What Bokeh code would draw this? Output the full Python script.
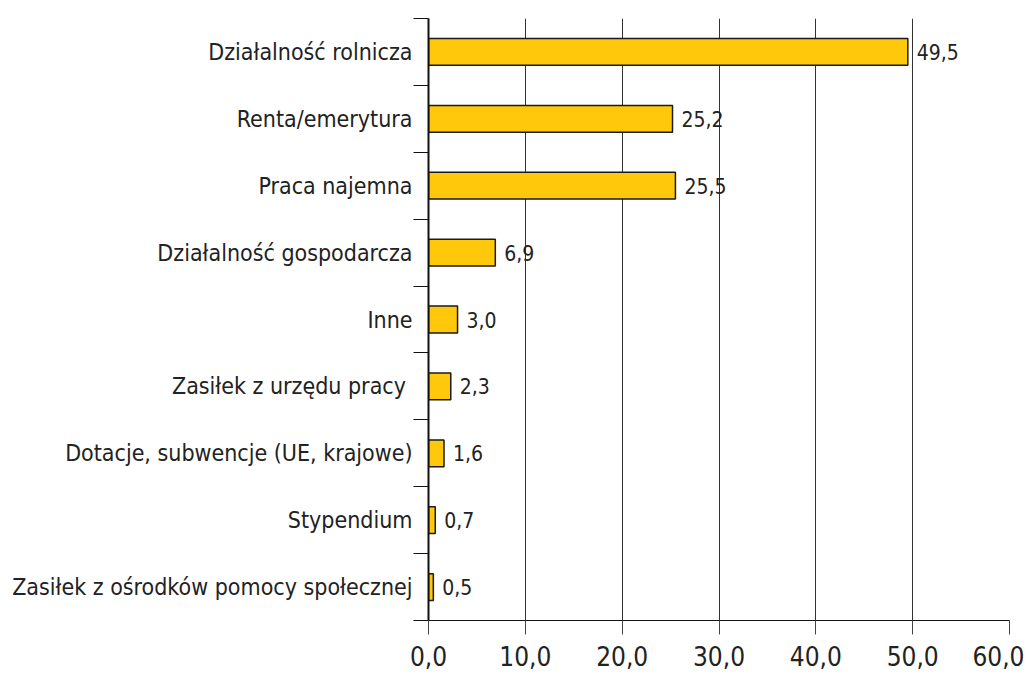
from bokeh.plotting import figure
from bokeh.models import FixedTicker, ColumnDataSource, Range1d
from bokeh.core.properties import value
from bokeh.embed import file_html
from bokeh.resources import INLINE

categories = [
    "Działalność rolnicza",
    "Renta/emerytura",
    "Praca najemna",
    "Działalność gospodarcza",
    "Inne",
    "Zasiłek z urzędu pracy ",
    "Dotacje, subwencje (UE, krajowe)",
    "Stypendium",
    "Zasiłek z ośrodków pomocy społecznej",
]
values = [49.5, 25.2, 25.5, 6.9, 3.0, 2.3, 1.6, 0.7, 0.5]
value_labels = ["49,5", "25,2", "25,5", "6,9", "3,0", "2,3", "1,6", "0,7", "0,5"]
x_ticks = [0, 10, 20, 30, 40, 50, 60]
x_tick_labels = ["0,0", "10,0", "20,0", "30,0", "40,0", "50,0", "60,0"]

n = len(categories)
ypos = [n - i for i in range(n)]  # top category at top
FONT = "DejaVu Sans Condensed, DejaVu Sans, sans-serif"

src = ColumnDataSource(dict(y=ypos, v=values, lab=value_labels, cat=categories))

p = figure(width=1024, height=676, output_backend="svg", toolbar_location=None,
           x_range=Range1d(0, 60), y_range=Range1d(0.5, n + 0.5),
           min_border_left=428, min_border_right=15, min_border_top=18, min_border_bottom=56)
p.outline_line_color = None
p.background_fill_color = "white"

p.hbar(y="y", right="v", left=0, height=0.4, source=src,
       fill_color="#FFC80B", line_color="#1a1a1a", line_width=1.5)

p.text(x="v", y="y", text="lab", source=src, x_offset=9,
       text_align="left", text_baseline="middle",
       text_font=value(FONT), text_font_size="21px", text_color="#222222")

# x axis
p.xaxis.ticker = FixedTicker(ticks=x_ticks)
p.xaxis.major_label_overrides = {t: l for t, l in zip(x_ticks, x_tick_labels)}
p.xaxis.major_label_text_font = FONT
p.xaxis.major_label_text_font_size = "26px"
p.xaxis.major_label_text_color = "#222222"
p.xaxis.major_label_standoff = 11
p.xaxis.major_tick_in = 0
p.xaxis.major_tick_out = 14
p.xaxis.major_tick_line_color = "#444444"
p.xaxis.minor_tick_line_color = None
p.xaxis.axis_line_color = "#111111"
p.xaxis.axis_line_width = 1

# y axis: labels at centers, tick marks at boundaries
bounds = [i + 0.5 for i in range(n + 1)]
p.yaxis.ticker = FixedTicker(ticks=ypos, minor_ticks=bounds)
p.yaxis.major_label_overrides = {y: c for y, c in zip(ypos, categories)}
p.yaxis.major_label_text_font = FONT
p.yaxis.major_label_text_font_size = "23px"
p.yaxis.major_label_text_color = "#222222"
p.yaxis.major_label_standoff = 1
p.yaxis.major_tick_in = 0
p.yaxis.major_tick_out = 0
p.yaxis.minor_tick_in = 0
p.yaxis.minor_tick_out = 15
p.yaxis.minor_tick_line_color = "#111111"
p.yaxis.minor_tick_line_width = 1
p.yaxis.axis_line_color = "#111111"
p.yaxis.axis_line_width = 2

p.xgrid.ticker = FixedTicker(ticks=x_ticks)
p.xgrid.grid_line_color = "#333333"
p.xgrid.grid_line_width = 1
p.ygrid.grid_line_color = None

open("out.html", "w").write(file_html(p, INLINE))
